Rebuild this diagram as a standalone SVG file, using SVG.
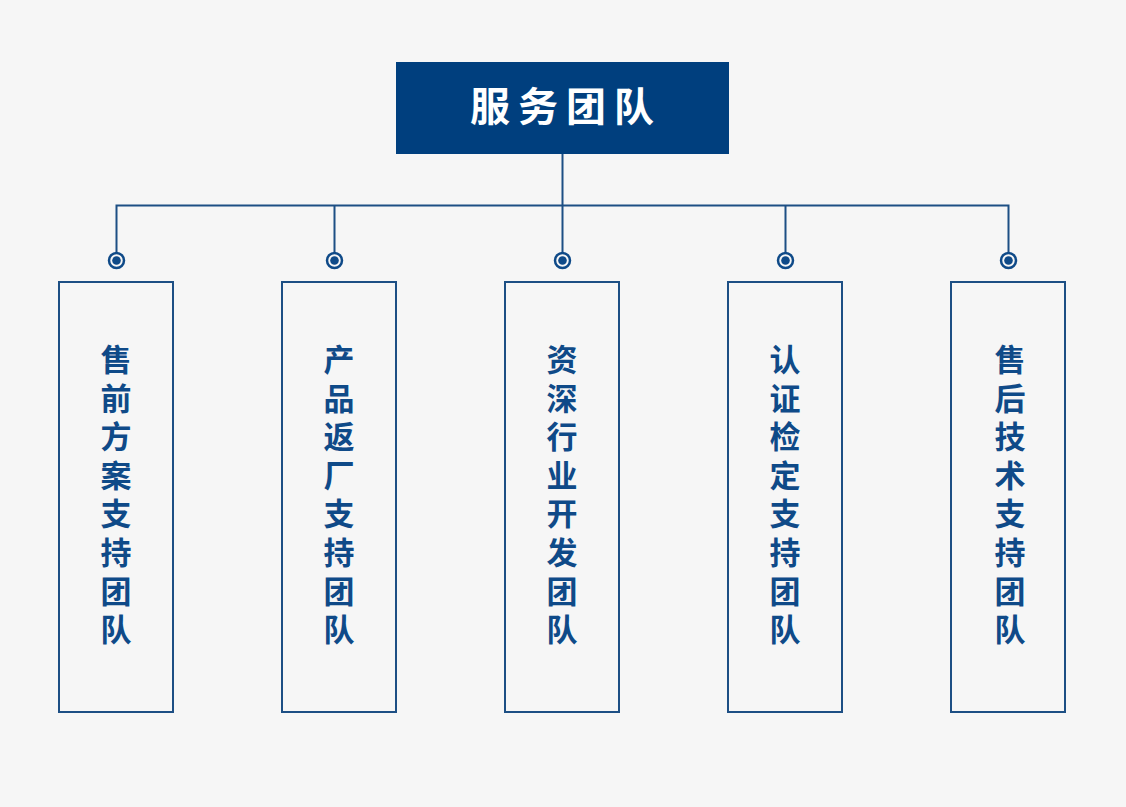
<svg xmlns="http://www.w3.org/2000/svg" width="1126" height="807" viewBox="0 0 1126 807">
<style>
.bg{fill:#f6f6f6}
.top{fill:#003f7e}
.tt{font-family:"Noto Sans CJK SC","Noto Sans",sans-serif;font-weight:bold;font-size:40px;fill:#ffffff;letter-spacing:8px}
.line{stroke:#1d4f84;stroke-width:2;fill:none}
.box{fill:#f6f6f6;stroke:#1d4f84;stroke-width:2}
.lbl{font-family:"Noto Sans CJK SC","Noto Sans",sans-serif;font-weight:bold;font-size:31px;fill:#0f4a88}
.ring{fill:#f6f6f6;stroke:#0f4a88;stroke-width:2.5}
.dot{fill:#0f4a88}
</style>
<rect class="bg" x="0" y="0" width="1126" height="807"/>
<g id="root">
<rect class="top" x="396" y="62" width="333" height="92"/>
<text class="tt" x="566" y="121" text-anchor="middle">服务团队</text>
</g>
<g id="connectors">
<line class="line" x1="562.5" y1="154" x2="562.5" y2="260"/>
<polyline class="line" points="116.5,252 116.5,205.5 1008.5,205.5 1008.5,252"/>
<line class="line" x1="334.5" y1="205" x2="334.5" y2="252"/>
<line class="line" x1="785.5" y1="205" x2="785.5" y2="252"/>
<circle class="ring" cx="116.5" cy="260.5" r="7.5"/><circle class="dot" cx="116.5" cy="260.5" r="4.3"/>
<circle class="ring" cx="334.5" cy="260.5" r="7.5"/><circle class="dot" cx="334.5" cy="260.5" r="4.3"/>
<circle class="ring" cx="562.5" cy="260.5" r="7.5"/><circle class="dot" cx="562.5" cy="260.5" r="4.3"/>
<circle class="ring" cx="785.5" cy="260.5" r="7.5"/><circle class="dot" cx="785.5" cy="260.5" r="4.3"/>
<circle class="ring" cx="1008.5" cy="260.5" r="7.5"/><circle class="dot" cx="1008.5" cy="260.5" r="4.3"/>
</g>
<g id="n1">
<rect class="box" x="59" y="282" width="114" height="430"/>
<text class="lbl" text-anchor="middle"><tspan x="116" y="371">售</tspan><tspan x="116" dy="38.6">前</tspan><tspan x="116" dy="38.6">方</tspan><tspan x="116" dy="38.6">案</tspan><tspan x="116" dy="38.6">支</tspan><tspan x="116" dy="38.6">持</tspan><tspan x="116" dy="38.6">团</tspan><tspan x="116" dy="38.6">队</tspan></text>
</g>
<g id="n2">
<rect class="box" x="282" y="282" width="114" height="430"/>
<text class="lbl" text-anchor="middle"><tspan x="339" y="371">产</tspan><tspan x="339" dy="38.6">品</tspan><tspan x="339" dy="38.6">返</tspan><tspan x="339" dy="38.6">厂</tspan><tspan x="339" dy="38.6">支</tspan><tspan x="339" dy="38.6">持</tspan><tspan x="339" dy="38.6">团</tspan><tspan x="339" dy="38.6">队</tspan></text>
</g>
<g id="n3">
<rect class="box" x="505" y="282" width="114" height="430"/>
<text class="lbl" text-anchor="middle"><tspan x="562" y="371">资</tspan><tspan x="562" dy="38.6">深</tspan><tspan x="562" dy="38.6">行</tspan><tspan x="562" dy="38.6">业</tspan><tspan x="562" dy="38.6">开</tspan><tspan x="562" dy="38.6">发</tspan><tspan x="562" dy="38.6">团</tspan><tspan x="562" dy="38.6">队</tspan></text>
</g>
<g id="n4">
<rect class="box" x="728" y="282" width="114" height="430"/>
<text class="lbl" text-anchor="middle"><tspan x="785" y="371">认</tspan><tspan x="785" dy="38.6">证</tspan><tspan x="785" dy="38.6">检</tspan><tspan x="785" dy="38.6">定</tspan><tspan x="785" dy="38.6">支</tspan><tspan x="785" dy="38.6">持</tspan><tspan x="785" dy="38.6">团</tspan><tspan x="785" dy="38.6">队</tspan></text>
</g>
<g id="n5">
<rect class="box" x="951" y="282" width="114" height="430"/>
<text class="lbl" text-anchor="middle"><tspan x="1010" y="371">售</tspan><tspan x="1010" dy="38.6">后</tspan><tspan x="1010" dy="38.6">技</tspan><tspan x="1010" dy="38.6">术</tspan><tspan x="1010" dy="38.6">支</tspan><tspan x="1010" dy="38.6">持</tspan><tspan x="1010" dy="38.6">团</tspan><tspan x="1010" dy="38.6">队</tspan></text>
</g>
</svg>
